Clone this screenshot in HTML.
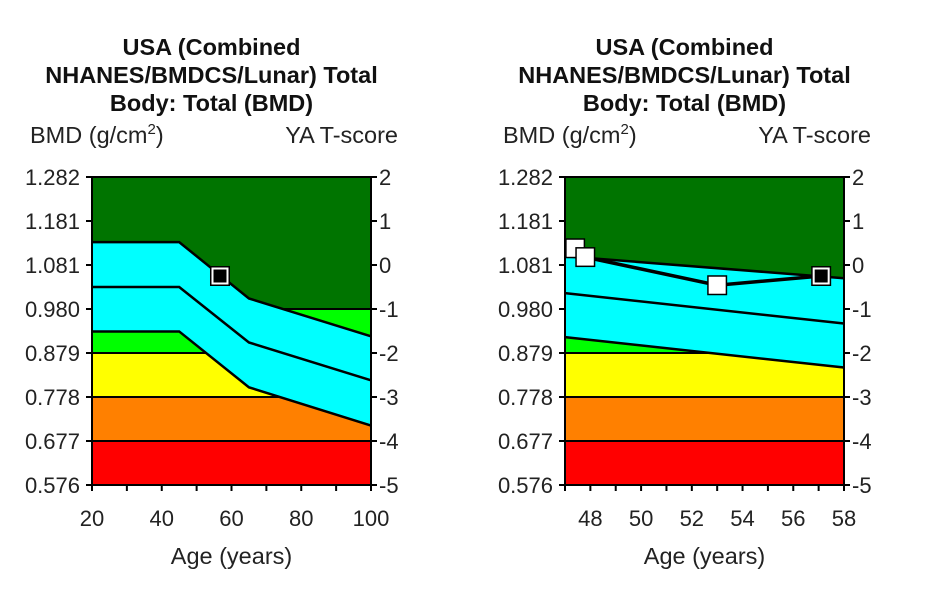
<!DOCTYPE html>
<html><head><meta charset="utf-8"><style>
body{margin:0;background:#fff;}
svg{display:block;font-family:"Segoe UI","Liberation Sans",sans-serif;}
.t{font-weight:bold;font-size:23.5px;text-anchor:middle;fill:#111}
.l{font-size:22px;fill:#222}
.a{font-size:23.5px;fill:#222}
</style></head><body>
<svg id="svg" width="936" height="602" viewBox="0 0 936 602" xmlns="http://www.w3.org/2000/svg"></svg>
<script>
// ---- data ----
const yTicksBMD = ["1.282","1.181","1.081","0.980","0.879","0.778","0.677","0.576"];
const yTicksT = ["2","1","0","-1","-2","-3","-4","-5"];
const bandBounds = [2,-1,-2,-3,-4,-5];
const bandColors = ["#007400","#00ff00","#ffff00","#ff8000","#ff0000"];
// left chart
const leftXTicks = [20,40,60,80,100];
const leftAges = [20,45,65,100];
const leftZp1 = [0.52,0.52,-0.76,-1.62];
const leftZ0 = [-0.5,-0.5,-1.76,-2.62];
const leftZm1 = [-1.51,-1.51,-2.78,-3.65];
const leftPtAge = [56.7];
const leftPtT = [-0.25];
// right chart
const rightXTicks = [48,50,52,54,56,58];
const rightAges = [47,58];
const rightZp1 = [0.2,-0.30];
const rightZ0 = [-0.64,-1.33];
const rightZm1 = [-1.64,-2.33];
const rightPtAge = [47.4,47.8,53,57.1];
const rightPtT = [0.38,0.18,-0.46,-0.25];

const NS="http://www.w3.org/2000/svg";
const svg=document.getElementById('svg');
function mk(tag,attrs,parent){const e=document.createElementNS(NS,tag);for(const k in attrs)e.setAttribute(k,attrs[k]);(parent||svg).appendChild(e);return e;}

function chart(cfg){
  const g=mk('g',{});
  
  
  const L=cfg.x0,R=cfg.x1,T=177,B=485;
  const xs=a=>L+(a-cfg.xmin)/(cfg.xmax-cfg.xmin)*(R-L);
  const ys=t=>T+(2-t)/7*(B-T);
  const cx=(L+R)/2-20;
  ["USA (Combined","NHANES/BMDCS/Lunar) Total","Body: Total (BMD)"].forEach((s,i)=>{
    const t=mk('text',{x:cx,y:55+i*28,class:'t'},g);t.textContent=s;
    
  });
  const yl=mk('text',{x:L-62,y:143,class:'a'},g);
  yl.innerHTML='BMD (g/cm<tspan dy="-9" font-size="15">2</tspan><tspan dy="9">)</tspan>';
  
  const yr=mk('text',{x:R+27,y:143,class:'a','text-anchor':'end'},g);yr.textContent='YA T-score';
  
  for(let i=0;i<bandColors.length;i++){
    const r=mk('rect',{x:L,y:ys(bandBounds[i]),width:R-L,height:ys(bandBounds[i+1])-ys(bandBounds[i]),fill:bandColors[i]},g);
    
  }
  for(let i=1;i<bandBounds.length-1;i++){
    mk('line',{x1:L,x2:R,y1:ys(bandBounds[i]),y2:ys(bandBounds[i]),stroke:'#000','stroke-width':2},g);
  }
  const top=cfg.ages.map((a,i)=>xs(a)+','+ys(cfg.zp1[i]));
  const bot=cfg.ages.map((a,i)=>xs(a)+','+ys(cfg.zm1[i])).reverse();
  const poly=mk('polygon',{points:top.concat(bot).join(' '),fill:'#00ffff'},g);
  
  [cfg.zp1,cfg.z0,cfg.zm1].forEach(arr=>{
    const p=mk('polyline',{points:cfg.ages.map((a,i)=>xs(a)+','+ys(arr[i])).join(' '),fill:'none',stroke:'#000','stroke-width':2.5},g);
    
  });
  mk('rect',{x:L,y:T,width:R-L,height:B-T,fill:'none',stroke:'#000','stroke-width':2},g);
  yTicksBMD.forEach((s,i)=>{
    const t=2-i, y=ys(t);
    mk('line',{x1:L-6,x2:L,y1:y,y2:y,stroke:'#000','stroke-width':2},g);
    mk('line',{x1:R,x2:R+6,y1:y,y2:y,stroke:'#000','stroke-width':2},g);
    const a=mk('text',{x:L-12,y:y+8,class:'l','text-anchor':'end'},g);a.textContent=s;
    
    const b=mk('text',{x:R+8,y:y+8,class:'l'},g);b.textContent=yTicksT[i];
    
  });
  for(let a=cfg.xmin;a<=cfg.xmax+1e-9;a+=cfg.minor){
    mk('line',{x1:xs(a),x2:xs(a),y1:B,y2:B+6,stroke:'#000','stroke-width':2},g);
  }
  cfg.xticks.forEach(a=>{
    const t=mk('text',{x:xs(a),y:526,class:'l','text-anchor':'middle'},g);t.textContent=a;
    
  });
  const xt=mk('text',{x:(L+R)/2,y:564,class:'a','text-anchor':'middle'},g);xt.textContent='Age (years)';
  
  if(cfg.ptAge.length>1){
    const pl=mk('polyline',{points:cfg.ptAge.map((a,i)=>xs(a)+','+ys(cfg.ptT[i])).join(' '),fill:'none',stroke:'#000','stroke-width':3.5},g);
    
  }
  cfg.ptAge.forEach((a,i)=>{
    const last=i===cfg.ptAge.length-1;
    const x=xs(a),y=ys(cfg.ptT[i]);
    const r=mk('rect',{x:x-10,y:y-10,width:20,height:20,fill:'#000'},g);
    
    mk('rect',{x:x-7.5,y:y-7.5,width:15,height:15,fill:last?'#000':'#fff',stroke:'#fff','stroke-width':2},g);
  });
}
chart({name:'left-chart',x0:92,x1:371,xmin:20,xmax:100,minor:10,xticks:leftXTicks,ages:leftAges,zp1:leftZp1,z0:leftZ0,zm1:leftZm1,ptAge:leftPtAge,ptT:leftPtT});
chart({name:'right-chart',x0:565,x1:844,xmin:47,xmax:58,minor:1,xticks:rightXTicks,ages:rightAges,zp1:rightZp1,z0:rightZ0,zm1:rightZm1,ptAge:rightPtAge,ptT:rightPtT});
</script>
</body></html>
